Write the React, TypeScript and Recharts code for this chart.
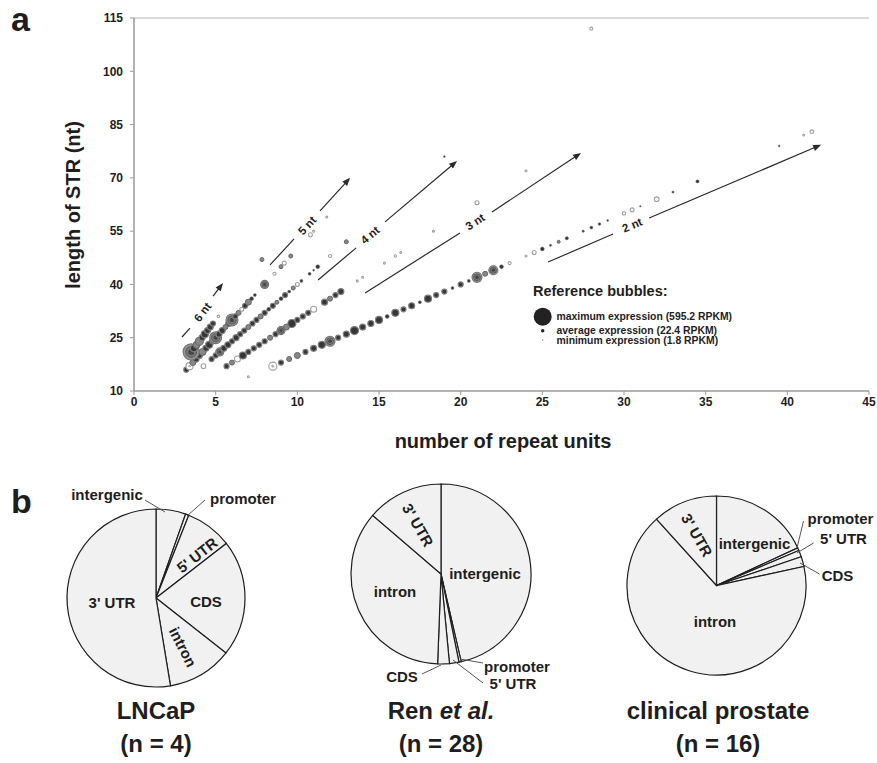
import React from 'react';
import {
  ScatterChart, Scatter, XAxis, YAxis, ZAxis, ReferenceLine, ReferenceDot,
  PieChart, Pie,
} from 'recharts';

const FONT = '"Liberation Sans", Arial, Helvetica, sans-serif';

// ---------- panel a : STR bubbles  [length (nt), expression (RPKM), tone] ----------
type Row = [number, number, string];

const dinucleotide: Row[] = [
  [14, 7, 'l'], [17, 120, 'l'], [18, 46, 'd'], [19, 46, 'm'], [20, 66, 'm'], [21, 46, 'd'], [22, 66, 'd'],
  [23, 90, 'd'], [24, 184, 'r'], [25, 46, 'd'], [26, 66, 'd'], [27, 118, 'd'], [28, 66, 'd'], [29, 66, 'd'],
  [30, 90, 'd'], [31, 29, 'd'], [32, 90, 'd'], [33, 46, 'd'], [34, 66, 'd'], [35, 17, 'd'], [36, 90, 'd'],
  [37, 46, 'd'], [38, 46, 'd'], [39, 17, 'd'], [40, 46, 'd'], [41, 17, 'd'], [42, 184, 'r'], [43, 46, 'm'],
  [44, 150, 'r'], [45, 29, 'd'], [46, 17, 'l'], [48, 7, 'l'], [49, 29, 'l'], [50, 29, 'd'], [51, 10, 'd'],
  [52, 17, 'm'], [53, 20, 'd'], [55, 10, 'd'], [56, 17, 'd'], [57, 14, 'd'], [58, 7, 'd'], [60, 20, 'l'],
  [61, 29, 'l'], [62, 5, 'd'], [64, 40, 'l'], [66, 10, 'd'], [69, 20, 'd'], [79, 7, 'd'], [82, 5, 'l'],
  [83, 25, 'l'],
];

const trinucleotide: Row[] = [
  [17, 46, 'd'], [18, 46, 'm'], [19, 66, 'l'], [20, 90, 'd'], [21, 46, 'd'], [22, 46, 'd'], [23, 46, 'd'],
  [24, 46, 'd'], [25, 46, 'm'], [26, 46, 'd'], [27, 118, 'r'], [28, 66, 'm'], [29, 118, 'd'], [30, 46, 'd'],
  [31, 46, 'd'], [32, 46, 'd'], [33, 66, 'l'], [35, 66, 'd'], [36, 46, 'm'], [37, 46, 'd'], [38, 66, 'd'],
  [41, 7, 'l'], [42, 7, 'l'], [46, 7, 'l'], [48, 12, 'l'], [49, 7, 'l'], [55, 7, 'l'], [63, 30, 'l'], [72, 7, 'l'],
];

const tetranucleotide: Row[] = [
  [17, 40, 'l'], [19, 46, 'd'], [20, 46, 'd'], [21, 118, 'r'], [22, 66, 'd'], [23, 66, 'd'], [24, 46, 'd'],
  [25, 66, 'd'], [26, 46, 'd'], [27, 46, 'd'], [28, 46, 'm'], [29, 46, 'd'], [30, 46, 'd'], [31, 46, 'm'],
  [32, 46, 'd'], [33, 29, 'd'], [34, 46, 'd'], [35, 29, 'm'], [36, 29, 'd'], [37, 46, 'd'], [38, 17, 'd'],
  [39, 29, 'm'], [40, 29, 'l'], [41, 17, 'd'], [43, 17, 'd'], [44, 7, 'd'], [45, 29, 'd'], [48, 17, 'l'],
  [52, 29, 'm'], [76, 7, 'd'], [112, 17, 'l'],
];

const pentanucleotide: Row[] = [
  [16, 46, 'd'], [17, 90, 'l'], [18, 66, 'm'], [19, 66, 'd'], [20, 66, 'd'], [21, 90, 'm'], [22, 66, 'd'],
  [23, 90, 'd'], [24, 66, 'm'], [25, 260, 'r'], [26, 66, 'd'], [27, 66, 'd'], [28, 46, 'm'], [29, 66, 'd'],
  [30, 266, 'r'], [31, 46, 'd'], [32, 46, 'm'], [33, 29, 'l'], [34, 46, 'd'], [35, 66, 'm'], [36, 29, 'd'],
  [37, 17, 'd'], [40, 118, 'r'], [43, 17, 'l'], [45, 29, 'm'], [46, 29, 'l'], [48, 29, 'm'], [54, 29, 'l'],
  [55, 7, 'l'], [59, 7, 'l'],
];

const hexanucleotide: Row[] = [
  [21, 480, 'r'], [22, 90, 'd'], [23, 90, 'm'], [24, 118, 'm'], [25, 66, 'd'], [26, 90, 'd'], [27, 66, 'd'],
  [28, 66, 'd'], [29, 46, 'd'], [31, 12, 'l'], [47, 29, 'm'],
];

const repeatClasses = [
  { period: 2, rows: dinucleotide },
  { period: 3, rows: trinucleotide },
  { period: 4, rows: tetranucleotide },
  { period: 5, rows: pentanucleotide },
  { period: 6, rows: hexanucleotide },
];

const xTicks = [0, 5, 10, 15, 20, 25, 30, 35, 40, 45];
const yTicks = [10, 25, 40, 55, 70, 85, 100, 115];

const referenceBubbles = [
  { label: 'maximum expression (595.2 RPKM)', rpkm: 595.2 },
  { label: 'average expression (22.4 RPKM)', rpkm: 22.4 },
  { label: 'minimum expression (1.8 RPKM)', rpkm: 1.8 },
];

// arrows "n nt" (annotation, in data units: [repeat units, length])
const arrowNotes = [
  { label: '6 nt', tail: [[2.94, 25.2], [3.43, 27.7]], head: [[4.84, 36.7], [5.45, 40.4]], at: [4.2, 32.2], angle: -52 },
  { label: '5 nt', tail: [[8.33, 45.5], [9.8, 52.8]], head: [[11.39, 60.7], [13.23, 70.0]], at: [10.6, 56.6], angle: -47 },
  { label: '4 nt', tail: [[11.27, 41.25], [13.6, 50.3]], head: [[15.37, 57.6], [19.78, 74.75]], at: [14.45, 53.9], angle: -40 },
  { label: '3 nt', tail: [[14.15, 37.6], [19.96, 54.5]], head: [[21.92, 60.4], [27.37, 77.0]], at: [20.88, 57.6], angle: -33 },
  { label: '2 nt', tail: [[25.35, 46.3], [29.33, 54.2]], head: [[31.54, 58.7], [42.07, 79.3]], at: [30.5, 56.7], angle: -23 },
];

// ---------- panel b : genomic location pies (percent) ----------
const lncap = [
  { name: 'intergenic', pct: 5.4 }, { name: 'promoter', pct: 0.6 }, { name: "5' UTR", pct: 8.5 },
  { name: 'CDS', pct: 21.1 }, { name: 'intron', pct: 11.8 }, { name: "3' UTR", pct: 52.6 },
];
const ren = [
  { name: 'intergenic', pct: 46.4 }, { name: 'promoter', pct: 0.4 }, { name: "5' UTR", pct: 1.7 },
  { name: 'CDS', pct: 2.1 }, { name: 'intron', pct: 35.7 }, { name: "3' UTR", pct: 13.7 },
];
const clinical = [
  { name: 'intergenic', pct: 18.1 }, { name: 'promoter', pct: 0.5 }, { name: "5' UTR", pct: 1.2 },
  { name: 'CDS', pct: 1.8 }, { name: 'intron', pct: 66.7 }, { name: "3' UTR", pct: 11.7 },
];

// label placement (offsets from pie centre, px)
type LabelSpec = { t: [number, number]; rot?: number; lead?: [number, number, number, number] };
const lncapLabels: LabelSpec[] = [
  { t: [-49, -104], lead: [-11, -98, 9, -86] },
  { t: [87, -100], lead: [49, -98, 31, -82] },
  { t: [41, -43], rot: -38 },
  { t: [50, 3] },
  { t: [27, 49], rot: 63 },
  { t: [-44, 4] },
];
const renLabels: LabelSpec[] = [
  { t: [44, -1] },
  { t: [76, 92], lead: [42, 89, 19, 85] },
  { t: [72, 109], lead: [42, 109, 12, 86] },
  { t: [-39, 102], lead: [-19, 100, 0, 91] },
  { t: [-46, 17] },
  { t: [-23, -49], rot: 60 },
];
const clinicalLabels: LabelSpec[] = [
  { t: [38, -42] },
  { t: [124, -67.5], lead: [87, -64.5, 80.5, -37.5] },
  { t: [127, -47.5], lead: [97, -42.5, 80.5, -32.5] },
  { t: [121, -10.5], lead: [103, -11.5, 83.5, -22.5] },
  { t: [-1.5, 35.5] },
  { t: [-19.5, -50.5], rot: 60 },
];

// ---------- helpers ----------
const MAX_R = 9;
const MAX_RPKM = 595.2;
const radiusFor = (v: number) => MAX_R * Math.sqrt(v / MAX_RPKM);

function Bubble(props: any) {
  const { cx, cy, payload, size } = props;
  if (cx == null || cy == null || !payload) return null;
  let r = typeof size === 'number' && size > 0 ? Math.sqrt(size / Math.PI) : radiusFor(payload.rpkm);
  r = Math.max(r, 0.8);
  const tone = payload.tone;
  if (tone === 'l') {
    return (
      <g>
        <circle cx={cx} cy={cy} r={r} fill="#ffffff" stroke="#a0a0a0" strokeWidth={1.1} />
        {r > 3 && <circle cx={cx} cy={cy} r={r * 0.35} fill="#b0b0b0" />}
      </g>
    );
  }
  if (tone === 'r') {
    return (
      <g>
        <circle cx={cx} cy={cy} r={r} fill="#969696" stroke="#727272" strokeWidth={1.1} />
        <circle cx={cx} cy={cy} r={r * 0.68} fill="#777" stroke="#505050" strokeWidth={0.8} />
        <circle cx={cx} cy={cy} r={r * 0.36} fill="#444" />
      </g>
    );
  }
  if (tone === 'm') {
    return <circle cx={cx} cy={cy} r={r} fill="#878787" stroke="#656565" strokeWidth={1} />;
  }
  return <circle cx={cx} cy={cy} r={r} fill="#363636" stroke="#7e7e7e" strokeWidth={r > 2 ? 1.2 : 0.5} />;
}

const segShape = (withHead: boolean) => (p: any) => {
  const { x1, y1, x2, y2 } = p;
  if ([x1, y1, x2, y2].some((v) => v == null || isNaN(v))) return null;
  const dx = x2 - x1;
  const dy = y2 - y1;
  const len = Math.sqrt(dx * dx + dy * dy) || 1;
  const ux = dx / len;
  const uy = dy / len;
  const hl = 8;
  const hw = 3.2;
  const bx = x2 - ux * hl;
  const by = y2 - uy * hl;
  return (
    <g>
      <line x1={x1} y1={y1} x2={withHead ? bx + ux * 1 : x2} y2={withHead ? by + uy * 1 : y2} stroke="#2a2a2a" strokeWidth={1.2} />
      {withHead && (
        <polygon
          points={`${x2},${y2} ${bx - uy * hw},${by + ux * hw} ${bx + uy * hw},${by - ux * hw}`}
          fill="#2a2a2a"
        />
      )}
    </g>
  );
};

const noteText = (label: string, angle: number) => (p: any) => {
  const { cx, cy } = p;
  if (cx == null || cy == null) return null;
  return (
    <text
      x={cx}
      y={cy}
      textAnchor="middle"
      dominantBaseline="central"
      transform={`rotate(${angle} ${cx} ${cy})`}
      fontFamily={FONT}
      fontWeight="bold"
      fontSize={11.5}
      fill="#1e1e1e"
    >
      {label}
    </text>
  );
};

const makePieLabel = (specs: LabelSpec[], data: { name: string }[]) => (p: any) => {
  const { cx, cy, index } = p;
  const spec = specs[index];
  if (!spec) return null;
  const x = cx + spec.t[0];
  const y = cy + spec.t[1];
  return (
    <g>
      {spec.lead && (
        <line
          x1={cx + spec.lead[0]}
          y1={cy + spec.lead[1]}
          x2={cx + spec.lead[2]}
          y2={cy + spec.lead[3]}
          stroke="#555"
          strokeWidth={1}
        />
      )}
      <text
        x={x}
        y={y}
        textAnchor="middle"
        dominantBaseline="central"
        transform={spec.rot ? `rotate(${spec.rot} ${x} ${y})` : undefined}
        fontFamily={FONT}
        fontWeight="bold"
        fontSize={15}
        fill="#1e1e1e"
      >
        {data[index].name}
      </text>
    </g>
  );
};

const tickStyle = { fill: '#1e1e1e', fontSize: 12, fontWeight: 'bold' as const, fontFamily: FONT };

export default function App() {
  return (
    <div style={{ position: 'absolute', left: 0, top: 0, width: 877, height: 763, background: '#fff', fontFamily: FONT, color: '#1e1e1e', overflow: 'hidden' }}>
      {/* panel letters */}
      <div style={{ position: 'absolute', left: 11, top: 2, fontSize: 34, fontWeight: 'bold', lineHeight: '34px' }}>a</div>
      <div style={{ position: 'absolute', left: 11, top: 484, fontSize: 34, fontWeight: 'bold', lineHeight: '34px' }}>b</div>

      {/* panel a */}
      <div style={{ position: 'absolute', left: 0, top: 0 }}>
        <ScatterChart width={877} height={470} margin={{ top: 18, right: 8, bottom: 0, left: 0 }}>
          <XAxis
            type="number"
            dataKey="units"
            domain={[0, 45]}
            ticks={xTicks}
            height={79}
            axisLine={{ stroke: '#9a9a9a', strokeWidth: 1.5 }}
            tickLine={{ stroke: '#9a9a9a' }}
            tickSize={4}
            tick={tickStyle}
          />
          <YAxis
            type="number"
            dataKey="len"
            domain={[10, 115]}
            ticks={yTicks}
            width={134}
            axisLine={{ stroke: '#9a9a9a', strokeWidth: 1.5 }}
            tickLine={{ stroke: '#9a9a9a' }}
            tickSize={4}
            tickMargin={7}
            tick={tickStyle}
          />
          <ZAxis type="number" dataKey="rpkm" domain={[0, MAX_RPKM]} range={[0, Math.PI * MAX_R * MAX_R]} />
          <ReferenceLine y={115} stroke="#b5b5b5" strokeWidth={1} />
          {repeatClasses.map((c) => (
            <Scatter
              key={c.period}
              data={c.rows.map(([len, rpkm, tone]) => ({ units: len / c.period, len, rpkm, tone }))}
              shape={Bubble}
              isAnimationActive={false}
            />
          ))}
          {arrowNotes.map((a) => (
            <ReferenceLine
              key={a.label + 't'}
              segment={[{ x: a.tail[0][0], y: a.tail[0][1] }, { x: a.tail[1][0], y: a.tail[1][1] }]}
              shape={segShape(false)}
              ifOverflow="visible"
            />
          ))}
          {arrowNotes.map((a) => (
            <ReferenceLine
              key={a.label + 'h'}
              segment={[{ x: a.head[0][0], y: a.head[0][1] }, { x: a.head[1][0], y: a.head[1][1] }]}
              shape={segShape(true)}
              ifOverflow="visible"
            />
          ))}
          {arrowNotes.map((a) => (
            <ReferenceDot
              key={a.label + 'l'}
              x={a.at[0]}
              y={a.at[1]}
              r={0}
              ifOverflow="visible"
              shape={noteText(a.label, a.angle)}
            />
          ))}
        </ScatterChart>
      </div>

      {/* axis titles */}
      <div style={{ position: 'absolute', left: 303, top: 428, width: 400, textAlign: 'center', fontSize: 20, fontWeight: 'bold', lineHeight: '26px' }}>
        number of repeat units
      </div>
      <div
        style={{
          position: 'absolute', left: 73 - 150, top: 205 - 13, width: 300, textAlign: 'center', fontSize: 20,
          fontWeight: 'bold', lineHeight: '26px', transform: 'rotate(-90deg)', transformOrigin: '150px 13px',
        }}
      >
        length of STR (nt)
      </div>

      {/* reference bubbles legend */}
      <svg style={{ position: 'absolute', left: 525, top: 280 }} width={240} height={70}>
        <text x={8} y={16} fontFamily={FONT} fontWeight="bold" fontSize={14.5} fill="#1e1e1e">Reference bubbles:</text>
        {referenceBubbles.map((b, i) => {
          const cy = [36.7, 50.7, 60][i];
          return (
            <g key={b.label}>
              <circle cx={17.7} cy={cy} r={Math.max(radiusFor(b.rpkm), 0.6)} fill="#222" />
              <text x={31.5} y={cy} dominantBaseline="central" fontFamily={FONT} fontWeight="bold" fontSize={10.4} fill="#1e1e1e">
                {b.label}
              </text>
            </g>
          );
        })}
      </svg>

      {/* panel b */}
      <div style={{ position: 'absolute', left: 0, top: 440 }}>
        <PieChart width={877} height={323} margin={{ top: 0, right: 0, bottom: 0, left: 0 }}>
          <Pie
            data={lncap} dataKey="pct" nameKey="name" cx={156} cy={158} outerRadius={89}
            startAngle={90} endAngle={-270} fill="#f1f1f1" stroke="#1e1e1e" strokeWidth={1.2}
            label={makePieLabel(lncapLabels, lncap)} labelLine={false} isAnimationActive={false}
          />
          <Pie
            data={ren} dataKey="pct" nameKey="name" cx={441} cy={134} outerRadius={90}
            startAngle={90} endAngle={-270} fill="#f1f1f1" stroke="#1e1e1e" strokeWidth={1.2}
            label={makePieLabel(renLabels, ren)} labelLine={false} isAnimationActive={false}
          />
          <Pie
            data={clinical} dataKey="pct" nameKey="name" cx={716.5} cy={145.5} outerRadius={89.5}
            startAngle={90} endAngle={-270} fill="#f1f1f1" stroke="#1e1e1e" strokeWidth={1.2}
            label={makePieLabel(clinicalLabels, clinical)} labelLine={false} isAnimationActive={false}
          />
        </PieChart>
      </div>

      {/* pie titles */}
      <div style={{ position: 'absolute', left: 56, top: 694, width: 200, textAlign: 'center', fontSize: 24, fontWeight: 'bold', lineHeight: '33px' }}>
        LNCaP<br />(n = 4)
      </div>
      <div style={{ position: 'absolute', left: 341, top: 694, width: 200, textAlign: 'center', fontSize: 24, fontWeight: 'bold', lineHeight: '33px' }}>
        Ren <i>et al.</i><br />(n = 28)
      </div>
      <div style={{ position: 'absolute', left: 568, top: 694, width: 300, textAlign: 'center', fontSize: 24, fontWeight: 'bold', lineHeight: '33px' }}>
        clinical prostate<br />(n = 16)
      </div>
    </div>
  );
}
